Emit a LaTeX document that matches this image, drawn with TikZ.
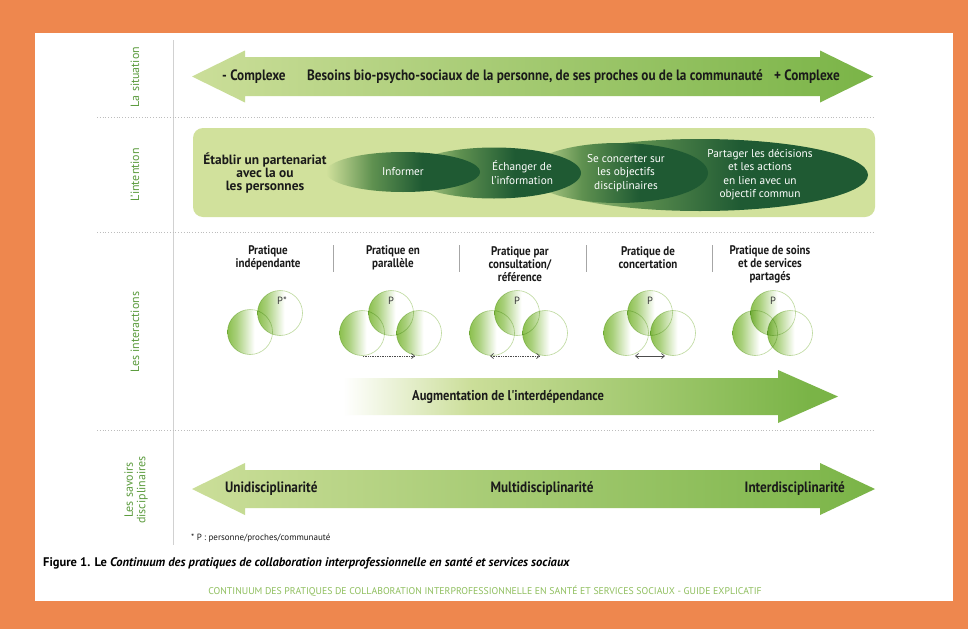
\documentclass[tikz,border=0pt]{standalone}
\usepackage{fontspec}
\setmainfont{PT Sans}
\newfontfamily\condf{PT Sans}[FakeStretch=0.88]
\usetikzlibrary{arrows.meta,shapes.geometric}
\definecolor{orangebg}{HTML}{EE874E}
\definecolor{bandgreen}{HTML}{D1E19C}
\definecolor{lightarrow}{HTML}{CBDE99}
\definecolor{midarrow}{HTML}{7AB447}
\definecolor{darkell}{HTML}{1F5A33}
\definecolor{midell}{HTML}{5F9150}
\definecolor{labgreen}{HTML}{5C9C3E}
\definecolor{circgreen}{HTML}{8CC04F}
\definecolor{circline}{HTML}{BBD89A}
\definecolor{sepgrey}{HTML}{BDBDBD}
\definecolor{footgreen}{HTML}{8FBF5E}
\definecolor{txtdark}{HTML}{1A1A1A}
\pgfdeclarehorizontalshading{ellsh}{100bp}{color(0bp)=(bandgreen); color(25bp)=(bandgreen); color(40bp)=(midell); color(56bp)=(darkell); color(75bp)=(darkell); color(100bp)=(darkell)}
\pgfdeclarehorizontalshading{circsh}{100bp}{color(0bp)=(circgreen); color(25bp)=(circgreen); color(35bp)=(circgreen!75!white); color(55bp)=(white); color(100bp)=(white)}
\pgfdeclarehorizontalshading{augsh}{100bp}{color(0bp)=(white); color(25bp)=(white); color(38bp)=(lightarrow); color(72bp)=(midarrow); color(100bp)=(midarrow)}
\tikzset{
  arrtxt/.style={font=\condf\bfseries\fontsize{15}{16}\selectfont, text=txtdark, inner sep=0pt},
  sidelab/.style={rotate=90, font=\fontsize{12}{12.5}\selectfont, text=labgreen, align=center, inner sep=0pt},
  elltxt/.style={font=\fontsize{11.3}{13.5}\selectfont, text=white, align=center, inner sep=0pt},
  ellbox/.style={ellipse, shading=ellsh, inner sep=0pt},
  prtitle/.style={font=\condf\bfseries\fontsize{12.5}{13}\selectfont, text=txtdark, align=center, inner sep=0pt},
  venn/.style={circle, minimum size=45pt, inner sep=0pt, shading=circsh, draw=circline, line width=0.6pt},
  plab/.style={font=\fontsize{10.5}{11}\selectfont, text=txtdark!85, inner sep=0pt},
  sepline/.style={sepgrey, dotted, line width=0.8pt},
  tickline/.style={black!35, line width=0.8pt},
  linkarr/.style={black!70, line width=0.7pt},
}
\begin{document}
\begin{tikzpicture}[x=1pt,y=-1pt]
\useasboundingbox (0,0) rectangle (968,629);
% background
\fill[orangebg] (0,0) rectangle (968,629);
\fill[white] (35,33) rectangle (953,601);
% separators
\draw[black!18, line width=0.8pt] (173,40) -- (173,545);
\draw[sepline] (97,117) -- (873,117);
\draw[sepline] (97,232) -- (873,232);
\draw[sepline] (97,430) -- (873,430);
% side labels
\node[sidelab] (lsit) at (135,77) {La situation};
\node[sidelab] (lint) at (135,175) {L'intention};
\node[sidelab] (linter) at (135,332) {Les interactions};
\node[sidelab] (lsav) at (136,490) {Les savoirs\\disciplinaires};
% situation arrow
\shade[left color=lightarrow, right color=midarrow]
  (192,76.5) -- (245,50.5) -- (245,57) -- (820,57) -- (820,50.5) -- (873,76.5)
  -- (820,102.5) -- (820,96) -- (245,96) -- (245,102.5) -- cycle;
\node[arrtxt, anchor=west] (sitL) at (222,76.5) {- Complexe};
\node[arrtxt] (sitM) at (535,76.5) {Besoins bio-psycho-sociaux de la personne, de ses proches ou de la communauté};
\node[arrtxt, anchor=east] (sitR) at (840,76.5) {+ Complexe};
% intention band
\fill[bandgreen, rounded corners=10pt] (193,128) rectangle (875,217);
\node[font=\bfseries\fontsize{13.4}{12.8}\selectfont, text=txtdark, align=center, inner sep=0pt] (etab) at (265,173) {Établir un partenariat\\avec la ou\\les personnes};
\node[ellbox, minimum width=336pt, minimum height=72pt] (e4) at (700,175) {};
\node[ellbox, minimum width=180pt, minimum height=60pt] (e3) at (618,173) {};
\node[ellbox, minimum width=174pt, minimum height=51pt] (e2) at (494,173) {};
\node[ellbox, minimum width=154pt, minimum height=40pt] (e1) at (403,172) {};
\node[elltxt] (t1) at (403,172) {Informer};
\node[elltxt] (t2) at (522,172.5) {Échanger de\\l'information};
\node[elltxt] (t3) at (626,173) {Se concerter sur\\les objectifs\\disciplinaires};
\node[elltxt] (t4) at (760,174.5) {Partager les décisions\\et les actions\\en lien avec un\\objectif commun};
% practice titles
\node[prtitle] (p1) at (268,257.5) {Pratique\\indépendante};
\node[prtitle] (p2) at (393,257.5) {Pratique en\\parallèle};
\node[prtitle] (p3) at (520,264) {Pratique par\\consultation/\\référence};
\node[prtitle] (p4) at (648,257.5) {Pratique de\\concertation};
\node[prtitle] (p5) at (770,264) {Pratique de soins\\et de services\\partagés};
\foreach \x in {333,459,586,712} \draw[tickline] (\x,245) -- (\x,272);
% venn groups
\begin{scope}[blend mode=multiply]
\node[venn] (g1l) at (250,332) {};
\node[venn] (g1p) at (280,313) {};
\node[venn] (g2l) at (362,333) {};
\node[venn] (g2r) at (419,333) {};
\node[venn] (g2p) at (391,313) {};
\node[venn] (g3l) at (492,333) {};
\node[venn] (g3r) at (545,333) {};
\node[venn] (g3p) at (517,313) {};
\node[venn] (g4l) at (626,333) {};
\node[venn] (g4r) at (673,333) {};
\node[venn] (g4p) at (650,313) {};
\node[venn] (g5l) at (755,333) {};
\node[venn] (g5r) at (790,333) {};
\node[venn] (g5p) at (773,313) {};
\end{scope}
\node[plab] (pl1) at (282,301) {P*};
\node[plab] (pl2) at (391,301) {P};
\node[plab] (pl3) at (517,301) {P};
\node[plab] (pl4) at (650,301) {P};
\node[plab] (pl5) at (773,301) {P};
\coordinate (a2s) at (363,356); \coordinate (a2e) at (415,356);
\coordinate (a3s) at (490,356); \coordinate (a3e) at (540,356);
\coordinate (a4s) at (635,356); \coordinate (a4e) at (665,356);
\draw[linkarr, densely dotted, -{Straight Barb[length=3pt,width=5pt]}] (a2s) -- (a2e);
\draw[linkarr, densely dotted, {Straight Barb[length=3pt,width=5pt]}-{Straight Barb[length=3pt,width=5pt]}] (a3s) -- (a3e);
\draw[linkarr, {Straight Barb[length=3pt,width=5pt]}-{Straight Barb[length=3pt,width=5pt]}] (a4s) -- (a4e);
% augmentation arrow
\shade[shading=augsh]
  (343,378) -- (778,378) -- (778,370) -- (838,396.5) -- (778,423) -- (778,415) -- (343,415) -- cycle;
\node[arrtxt, font=\condf\bfseries\fontsize{14.2}{15}\selectfont, anchor=west] (aug) at (412,396.5) {Augmentation de l'interdépendance};
% savoirs arrow
\shade[left color=lightarrow, right color=midarrow]
  (192,489) -- (245,463) -- (245,470) -- (820,470) -- (820,463) -- (875,489)
  -- (820,515) -- (820,508) -- (245,508) -- (245,515) -- cycle;
\node[arrtxt, anchor=west] (uni) at (225,489) {Unidisciplinarité};
\node[arrtxt] (multi) at (542,489) {Multidisciplinarité};
\node[arrtxt, anchor=east] (inter) at (845,489) {Interdisciplinarité};
% notes
\node[font=\fontsize{9}{10}\selectfont, text=txtdark, anchor=west, inner sep=0pt] (fn) at (191,538) {* P : personne/proches/communauté};
\node[font=\bfseries\fontsize{12.5}{13}\selectfont, text=black, anchor=west, inner sep=0pt] (cap) at (43,563) {Figure 1. Le \textit{Continuum des pratiques de collaboration interprofessionnelle en santé et services sociaux}};
\node[font=\fontsize{9.8}{11}\selectfont, text=footgreen, inner sep=0pt] (foot) at (485,591) {CONTINUUM DES PRATIQUES DE COLLABORATION INTERPROFESSIONNELLE EN SANTÉ ET SERVICES SOCIAUX - GUIDE EXPLICATIF};
\end{tikzpicture}
\end{document}
